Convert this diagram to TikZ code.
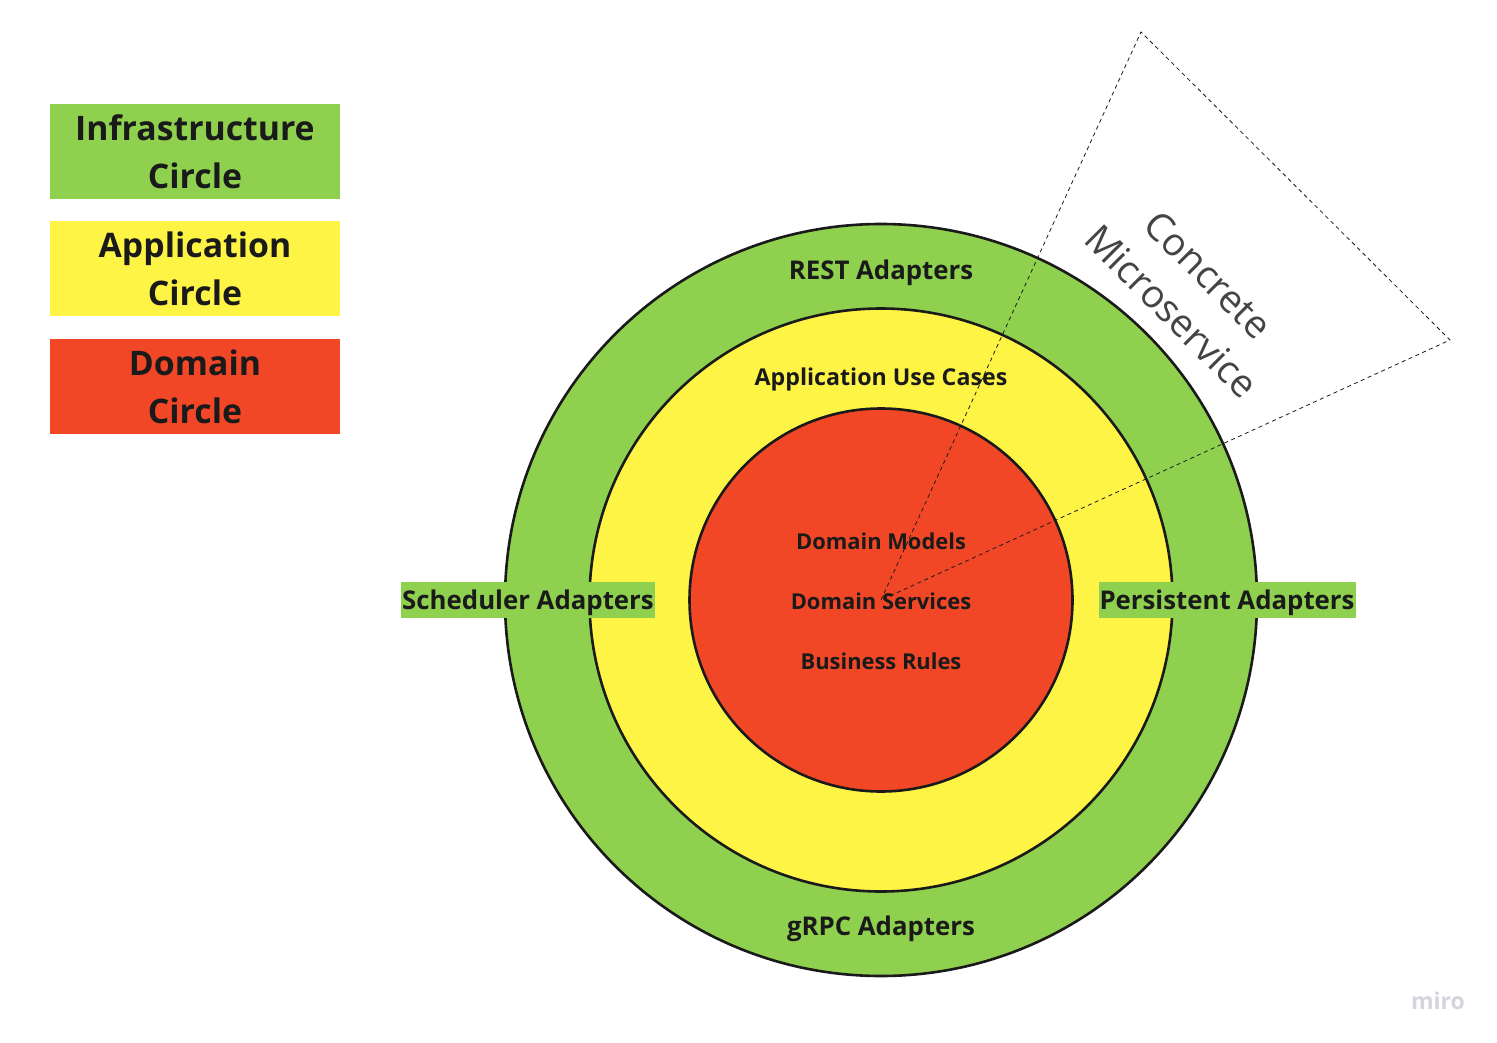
\documentclass[tikz,border=0pt]{standalone}
\usepackage{fontspec}
\setmainfont{Open Sans}
\begin{document}
\begin{tikzpicture}[x=1pt,y=-1pt,
  ring/.style={circle,draw=ringline,line width=2.6pt,inner sep=0pt},
  legendbox/.style={minimum width=290pt,minimum height=95pt,inner sep=0pt,align=center,text=txt,font=\fontsize{33.8}{48}\selectfont\bfseries},
  biglabel/.style={text=txt,font=\fontsize{25.8}{30}\selectfont\bfseries,inner sep=1pt},
  midlabel/.style={text=txt,font=\fontsize{23.2}{26}\selectfont\bfseries,inner sep=1pt},
  smalllabel/.style={text=txt,font=\fontsize{21.9}{25}\selectfont\bfseries,inner sep=1pt},
  sidelabel/.style={fill=mgreen,text=txt,font=\fontsize{25.8}{30}\selectfont\bfseries,inner sep=1pt,text height=26pt,text depth=8pt},
  dashline/.style={draw=txt,line width=0.8pt,dash pattern=on 4pt off 3.5pt}]
\definecolor{mgreen}{HTML}{8FD14F}
\definecolor{myellow}{HTML}{FEF445}
\definecolor{mred}{HTML}{F24726}
\definecolor{txt}{HTML}{1A1A1A}
\definecolor{ringline}{HTML}{1A1A1A}
\definecolor{cmtxt}{HTML}{444444}
\definecolor{mirogray}{HTML}{D4D4DC}
\useasboundingbox (0,0) rectangle (1497,1043);
\fill[white] (0,0) rectangle (1497,1043);
% legend
\node[legendbox,fill=mgreen] (linfra) at (195,151.5) {Infrastructure\\Circle};
\node[legendbox,fill=myellow] (lapp) at (195,268.5) {Application\\Circle};
\node[legendbox,fill=mred] (ldom) at (195,386.5) {Domain\\Circle};
% rings
\node[ring,fill=mgreen,minimum size=752pt] (outer) at (881,600) {};
\node[ring,fill=myellow,minimum size=583pt] (middle) at (881,600) {};
\node[ring,fill=mred,minimum size=383pt] (inner) at (881,600) {};
% labels
\node[biglabel] (rest) at (881,272.5) {REST Adapters};
\node[biglabel] (grpc) at (881,928.5) {gRPC Adapters};
\node[midlabel] (usecases) at (881,379.5) {Application Use Cases};
\node[smalllabel] (models) at (881,541) {Domain Models};
\node[smalllabel] (services) at (881,601) {Domain Services};
\node[smalllabel] (rules) at (881,661) {Business Rules};
\node[sidelabel,minimum width=252pt] (sched) at (528,600) {Scheduler Adapters};
\node[sidelabel,minimum width=256pt] (persist) at (1227,600) {Persistent Adapters};
% concrete microservice wedge
\coordinate (c0) at (881,600);
\coordinate (c1) at (1141,32);
\coordinate (c2) at (1450,340);
\draw[dashline] (c0) -- (c1) -- (c2) -- cycle;
\node[rotate=-45,align=center,text=cmtxt,font=\fontsize{38.5}{52}\selectfont] (cms) at (1190,293) {Concrete\\Microservice};
% watermark
\node[text=mirogray,font=\fontsize{23}{26}\selectfont\bfseries] (miro) at (1438,1001) {miro};
\end{tikzpicture}
\end{document}
